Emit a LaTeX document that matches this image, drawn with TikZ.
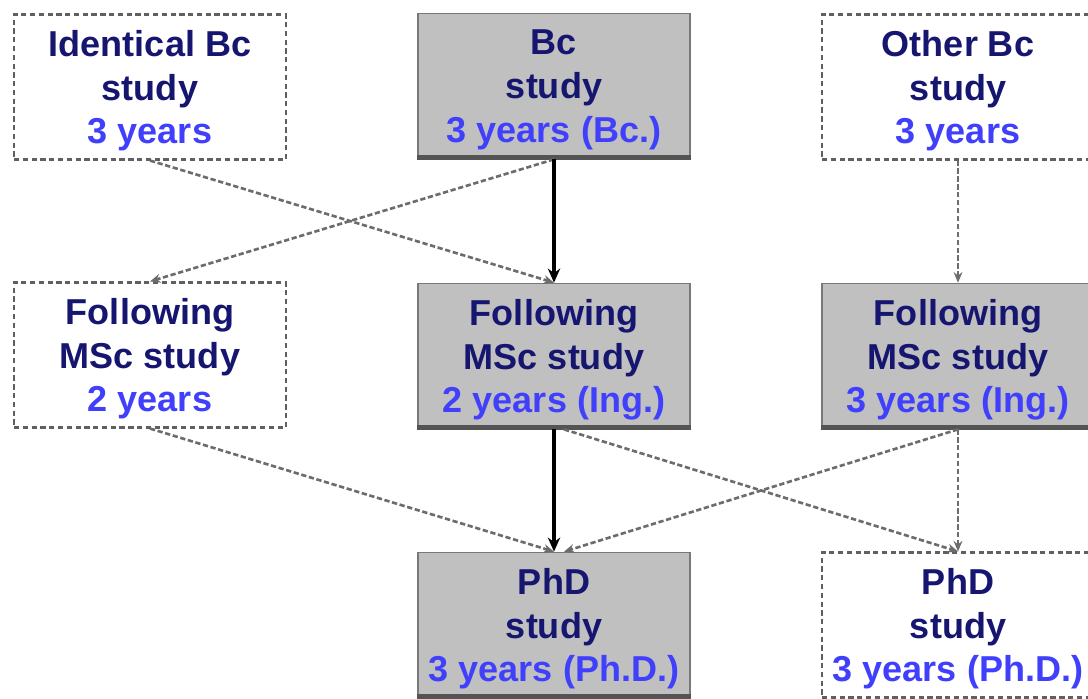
\documentclass[tikz,border=0pt]{standalone}
\usepackage{fontspec}
\setmainfont{Liberation Sans}
\usetikzlibrary{arrows.meta}

\definecolor{navytext}{RGB}{22,22,112}
\definecolor{yeartext}{RGB}{64,64,252}
\definecolor{boxgray}{RGB}{192,192,192}
\definecolor{edgegray}{RGB}{120,120,120}

\tikzset{
    studybox/.style={rectangle, minimum width=5.44cm, minimum height=2.9cm, align=center,
        font=\fontsize{20.5}{25}\selectfont\bfseries, text=navytext, inner sep=0pt,
        text depth=-2.5pt},
    mainbox/.style={studybox, draw=edgegray, fill=boxgray, line width=1pt},
    optbox/.style={studybox, draw=edgegray!80!black, fill=white, dashed, line width=1.2pt,
        dash pattern=on 3pt off 2pt},
    mainpath/.style={-{Stealth[length=8pt,width=7pt]}, black, line width=1.8pt},
    optpath/.style={-{Stealth[length=6pt,width=5pt,fill=black!80]}, edgegray!90!black, line width=1.5pt,
        dash pattern=on 3pt off 1.5pt}
}
\newcommand{\yrs}[1]{\textcolor{yeartext}{#1}}

\begin{document}
\begin{tikzpicture}[x=0.02cm, y=-0.02cm]
    \useasboundingbox (0,0) rectangle (1088,699);

    % Bachelor level
    \node (idbc)    at (150,87)  [optbox]  {Identical Bc\\study\\\yrs{3 years}};
    \node (bc)      at (554,86)  [mainbox] {Bc\\study\\\yrs{3 years (Bc.)}};
    \node (otherbc) at (958,87)  [optbox]  {Other Bc\\study\\\yrs{3 years}};

    % Master level
    \node (mscl) at (150,355) [optbox]  {Following\\MSc study\\\yrs{2 years}};
    \node (mscc) at (554,356) [mainbox] {Following\\MSc study\\\yrs{2 years (Ing.)}};
    \node (mscr) at (958,356) [mainbox] {Following\\MSc study\\\yrs{3 years (Ing.)}};

    % Doctoral level
    \node (phdc) at (554,625) [mainbox] {PhD\\study\\\yrs{3 years (Ph.D.)}};
    \node (phdr) at (958,625) [optbox]  {PhD\\study\\\yrs{3 years (Ph.D.)}};

    % darker bottom edge of the grey boxes
    \foreach \b in {bc, mscc, mscr, phdc}
        \draw[edgegray!70!black, line width=2.5pt] ([yshift=1pt]\b.south west) -- ([yshift=1pt]\b.south east);

    % optional routes
    \draw[optpath] (idbc.south) -- (mscc.north);
    \draw[optpath] (bc.south) -- (mscl.north);
    \draw[optpath] (otherbc.south) -- (mscr.north);
    \draw[optpath] (mscl.south) -- (phdc.north);
    \draw[optpath] ([xshift=0.2cm]mscc.south) -- (phdr.north);
    \draw[optpath] (mscr.south) -- ([xshift=0.2cm]phdc.north);
    \draw[optpath] (mscr.south) -- (phdr.north);

    % main route
    \draw[mainpath] (bc.south) -- (mscc.north);
    \draw[mainpath] (mscc.south) -- (phdc.north);
\end{tikzpicture}
\end{document}
